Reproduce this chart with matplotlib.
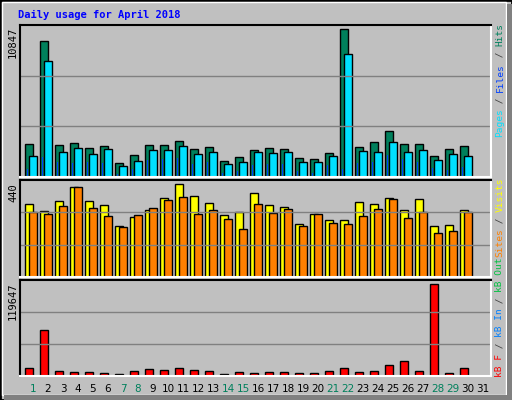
import numpy as np
import matplotlib.pyplot as plt
from matplotlib.patches import Rectangle

days = list(range(1, 32))
hits = [2454, 9963, 2380, 2528, 2160, 2307, 1055, 1644, 2380, 2380, 2675, 2086, 2233, 1202, 1497,
        2012, 2160, 2086, 1423, 1350, 1791, 10847, 2233, 2601, 3411, 2454, 2454, 1571, 2086, 2307]
files = [1571, 8491, 1865, 2160, 1718, 2086, 834, 1202, 2012, 2012, 2307, 1718, 1865, 982, 1129,
         1865, 1791, 1865, 1129, 1129, 1571, 9006, 1939, 1865, 2601, 1865, 2012, 1276, 1718, 1571]
pages = [614, 1497, 1129, 1055, 1129, 1055, 245, 614, 1276, 1350, 1423, 982, 1129, 319, 466,
         908, 982, 982, 466, 319, 908, 614, 1055, 1129, 1644, 1350, 1129, 687, 540, 761]
visits = [345, 311, 359, 426, 359, 340, 240, 283, 316, 373, 440, 383, 349, 292, 307,
          397, 340, 330, 249, 297, 268, 268, 354, 345, 373, 316, 368, 240, 245, 316]
sites = [306, 297, 335, 426, 326, 287, 235, 292, 326, 364, 378, 297, 316, 273, 230,
         345, 302, 321, 240, 297, 254, 249, 287, 321, 368, 278, 306, 211, 216, 306]
kbytes = [10917, 60700, 6987, 5677, 5677, 4367, 3057, 6987, 9607, 8297, 10917, 8297, 6987, 3057, 5677,
          4367, 5677, 5677, 4367, 4367, 6987, 10917, 5677, 6987, 14848, 20088, 6987, 119647, 4367, 10917]
weekend = [1, 7, 8, 14, 15, 21, 22, 28, 29]

BG = '#C0C0C0'
W, H = 512, 400
fig = plt.figure(figsize=(5.12, 4.0), dpi=100, facecolor=BG)

# outer bevel frame
fig.patches.append(Rectangle((0, 0), 1, 1, transform=fig.transFigure, fill=False, ec='black', lw=2))
fig.patches.append(Rectangle((2/W, 5/H), 1-8/W, 1-7/H, transform=fig.transFigure, fill=False, ec='white', lw=1))
fig.patches.append(Rectangle((4/W, 0), 1-4/W, 5/H, transform=fig.transFigure, color='#808080', lw=0))
fig.patches.append(Rectangle((1-5/W, 0), 5/W, 1-4/H, transform=fig.transFigure, color='#808080', lw=0))

def panel(top, bottom):
    ax = fig.add_axes([20/W, 1-bottom/H, 471/W, (bottom-top)/H])
    ax.set_facecolor(BG)
    ax.set_xticks([]); ax.set_yticks([])
    for s in ('top', 'left'):
        ax.spines[s].set_color('black')
    for s in ('bottom', 'right'):
        ax.spines[s].set_color('white')
    for sp in ax.spines.values():
        sp.set_linewidth(1.5)
    ax.set_xlim(-1/3, 466/15)
    return ax

x = np.arange(30)
kw = dict(align='edge', edgecolor='black', linewidth=1)

ax1 = panel(25, 177)
top1 = 11163
for k in (1, 2):
    ax1.axhline(top1*k/3, color='#808080', lw=1)
ax1.bar(x, hits, 0.5, color='#00805C', **kw)
ax1.bar(x+0.27, files, 0.5, color='#00E0FF', **kw)
ax1.bar(x+0.13, pages, 0.07, color='#0040FF', align='edge', lw=0)
ax1.set_ylim(0, top1)

ax2 = panel(180, 277)
top2 = 460
for k in (1, 2):
    ax2.axhline(top2*k/3, color='#808080', lw=1)
ax2.bar(x, visits, 0.5, color='#FFFF00', **kw)
ax2.bar(x+0.27, sites, 0.5, color='#FF8000', **kw)
ax2.set_ylim(0, top2)

ax3 = panel(280, 376)
top3 = 125400
for k in (1, 2):
    ax3.axhline(top3*k/3, color='#808080', lw=1)
ax3.bar(x, kbytes, 0.5, color='#FF0000', **kw)
ax3.set_ylim(0, top3)

mono = 'DejaVu Sans Mono'
fig.text(18/W, 1-15/H, 'Daily usage for April 2018', color='#0000FF', family=mono,
         weight='bold', fontsize=7.5, va='center')

for ytop, lab in ((27, '10847'), (183, '440'), (283, '119647')):
    fig.text(13/W, 1-ytop/H, lab, rotation=90, family=mono, fontsize=7.5, ha='center', va='top')

SFS = 6.8
step = 0.602 * SFS * 100 / 72

def side_label(ybottom, parts):
    y = ybottom
    for txt, col in parts:
        fig.text(500/W, 1-y/H, txt, rotation=90, family=mono, fontsize=SFS, color=col,
                 ha='center', va='bottom')
        y -= step*len(txt)

side_label(137, [('Pages', '#00E0FF'), (' / ', '#404040'), ('Files', '#0040FF'),
                 (' / ', '#404040'), ('Hits', '#00805C')])
side_label(257, [('Sites', '#FF8000'), (' / ', '#404040'), ('Visits', '#FFFF00')])
side_label(377, [('kB F', '#FF0000'), (' / ', '#404040'), ('kB In', '#0080FF'),
                 (' / ', '#404040'), ('kB Out', '#00C040')])

for d in days:
    col = '#00805C' if d in weekend else 'black'
    fig.text((25+15*(d-1)+8)/W, 1-389/H, str(d), color=col, fontsize=7.5, ha='center', va='center')

fig.savefig('out.png', dpi=100, facecolor=BG)
